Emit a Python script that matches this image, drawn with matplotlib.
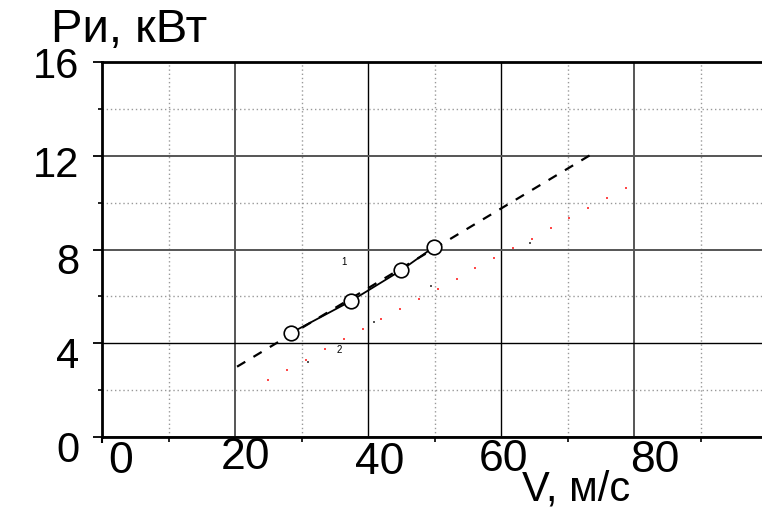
import matplotlib
matplotlib.use("Agg")
import matplotlib.pyplot as plt
import matplotlib.transforms as mtransforms
import numpy as np

plt.rcParams['font.family'] = ['Liberation Sans', 'DejaVu Sans']

# measured points (circles), curve 1
v_meas = [28.4, 37.4, 45.0, 49.9]
p_meas = [4.44, 5.80, 7.12, 8.11]

# approximation line (dashed)
v_fit = [20.3, 73.8]
p_fit = [3.0, 12.1]

# curve 2 (red dotted)
v_red = [25.0, 27.8, 30.7, 33.5, 36.4, 39.2, 42.0, 44.8, 47.7, 50.5,
         53.4, 56.1, 58.9, 61.8, 64.7, 67.5, 70.2, 73.1, 75.9, 78.8]
p_red = [2.43, 2.86, 3.28, 3.75, 4.18, 4.61, 5.03, 5.46, 5.89, 6.31,
         6.74, 7.21, 7.64, 8.06, 8.45, 8.92, 9.34, 9.77, 10.20, 10.62]

# stray dark points
v_dark = [31.0, 40.9, 49.5, 64.4]
p_dark = [3.2, 4.9, 6.44, 8.28]

xticks = [0, 20, 40, 60, 80]
yticks = [0, 4, 8, 12, 16]
# label offsets in pixels (dx, dy) to mimic the original
xoff = [(19, 2), (10, 6), (12, 1), (2, 4), (21, 3)]
yoff = [(0, -9), (0, -9), (0, -9), (0, -6), (0, -1)]

fig = plt.figure(figsize=(7.62, 5.12), dpi=100)
ax = fig.add_axes([102/762, 75/512, 1 - 102/762, 375/512])
ax.set_xlim(0, 99.2)
ax.set_ylim(0, 16)

ax.set_xticks(xticks)
ax.set_xticks([10, 30, 50, 70, 90], minor=True)
ax.set_yticks(yticks)
ax.set_yticks([2, 6, 10, 14], minor=True)

ax.grid(True, which='major', color='#555555', lw=1.4)
ax.grid(True, which='minor', color='#999999', lw=1.0, ls=(0, (1, 2)))
ax.set_axisbelow(True)
for i, gl in enumerate(ax.get_xgridlines()):
    if xticks[i] in (40, 60):
        gl.set_color('black'); gl.set_linewidth(1.0)
for i, gl in enumerate(ax.get_ygridlines()):
    if yticks[i] == 4:
        gl.set_color('black'); gl.set_linewidth(1.0)

for s in ['left', 'bottom', 'top']:
    ax.spines[s].set_linewidth(2)
    ax.spines[s].set_color('black')
ax.spines['right'].set_visible(False)

ax.tick_params(axis='x', which='major', length=4.5, width=1.5, labelsize=32, pad=0)
ax.tick_params(axis='x', which='minor', length=3.6, width=1.2, direction='out')
ax.tick_params(axis='y', which='major', length=6.5, width=1.3, labelsize=30, pad=10)
ax.tick_params(axis='y', which='minor', length=3, width=1.2)
ax.set_xticklabels([str(t) for t in xticks])
ax.set_yticklabels([str(t) for t in yticks])
for i, tk in enumerate(ax.xaxis.get_major_ticks()):
    if i > 0:
        tk.tick1line.set_visible(False)

for lab, (dx, dy) in zip(ax.get_xticklabels(), xoff):
    lab.set_transform(lab.get_transform() +
                      mtransforms.ScaledTranslation(dx/100, dy/100, fig.dpi_scale_trans))
for lab, (dx, dy) in zip(ax.get_yticklabels(), yoff):
    lab.set_transform(lab.get_transform() +
                      mtransforms.ScaledTranslation(dx/100, dy/100, fig.dpi_scale_trans))

ax.plot(v_fit, p_fit, color='black', lw=1.6, ls=(0, (4.3, 4.3)), zorder=3)
ax.plot(v_meas, p_meas, color='black', lw=1.3, zorder=3)
ax.plot(v_meas, p_meas, 'o', ms=10.5, mfc='white', mec='black', mew=1.2, zorder=4)
ax.plot(v_red, p_red, 's', ms=2.1, color='#ff4848', mew=0, zorder=3)
ax.plot(v_dark, p_dark, 's', ms=2.0, color='#555555', mew=0, zorder=3)

ax.text(36.4, 7.47, '1', fontsize=7, ha='center', va='center')
ax.text(35.6, 3.71, '2', fontsize=7, ha='center', va='center')

fig.text(129/762, 1 - 42/512, 'Ри, кВт', fontsize=34, ha='center', va='baseline')
fig.text(576/762, 1 - 500/512, 'V, м/с', fontsize=30, ha='center', va='baseline')

fig.savefig('out.png', dpi=100)
